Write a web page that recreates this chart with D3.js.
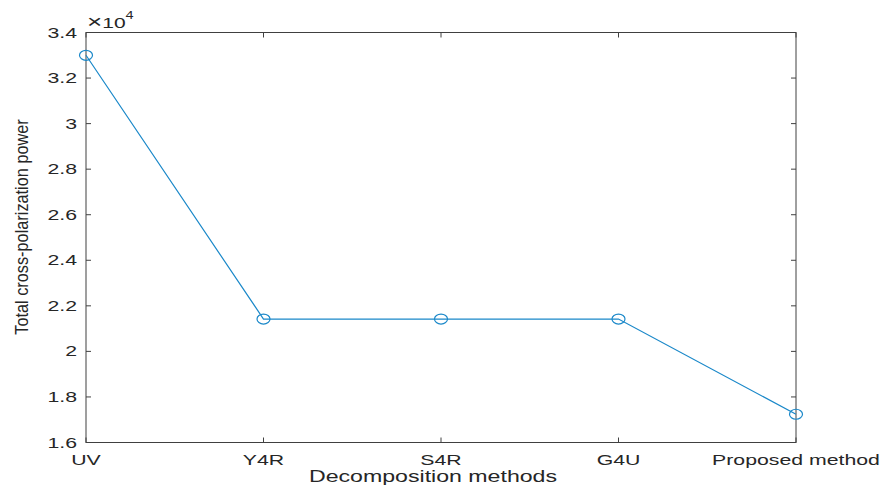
<!DOCTYPE html>
<html>
<head>
<meta charset="utf-8">
<script src="https://cdn.jsdelivr.net/npm/d3@7"></script>
<style>
  html, body { margin: 0; padding: 0; background: #fff; }
  svg { display: block; }
  text { font-family: "Liberation Sans", Arial, Helvetica, sans-serif; fill: #262626; }
</style>
</head>
<body>
<svg id="chart" width="887" height="495"></svg>
<script>
// Decomposition methods and their total cross-polarization power
const methods = ["UV", "Y4R", "S4R", "G4U", "Proposed method"];
const crossPolPower = [33000, 21420, 21420, 21420, 17240];
// y tick labels in units of 10^4
const yTickLabels = [1.6, 1.8, 2.0, 2.2, 2.4, 2.6, 2.8, 3.0, 3.2, 3.4];
const yExponent = 4;

const plot = { left: 86, right: 796, top: 32.5, bottom: 442.5 };
const axisColor = "#404040";
const lineColor = "#1a88c9";

const svg = d3.select("#chart");

const x = d3.scalePoint().domain(methods).range([plot.left, plot.right]).padding(0);
const y = d3.scaleLinear().domain([16000, 34000]).range([plot.bottom, plot.top]);

const fmt = v => String(+v.toFixed(1));

// text with horizontally widened glyphs
function stretchedText(g, tx, ty, sx, rot) {
  return g.append("text")
    .attr("transform", `translate(${tx},${ty}) scale(${sx},1)` + (rot ? ` rotate(${rot})` : ""));
}

// box
svg.append("rect")
  .attr("x", plot.left).attr("y", plot.top)
  .attr("width", plot.right - plot.left).attr("height", plot.bottom - plot.top)
  .attr("fill", "none").attr("stroke", axisColor).attr("stroke-width", 1);

const tickLen = 5;
const ticks = svg.append("g").attr("stroke", axisColor).attr("stroke-width", 1);

// y ticks, inward on both sides
yTickLabels.forEach(t => {
  const yy = y(t * Math.pow(10, yExponent));
  ticks.append("line").attr("x1", plot.left).attr("x2", plot.left + tickLen).attr("y1", yy).attr("y2", yy);
  ticks.append("line").attr("x1", plot.right).attr("x2", plot.right - tickLen).attr("y1", yy).attr("y2", yy);
});
// x ticks, inward on top and bottom
methods.forEach(m => {
  const xx = x(m);
  ticks.append("line").attr("x1", xx).attr("x2", xx).attr("y1", plot.bottom).attr("y2", plot.bottom - tickLen);
  ticks.append("line").attr("x1", xx).attr("x2", xx).attr("y1", plot.top).attr("y2", plot.top + tickLen);
});

const labels = svg.append("g");
const tickFont = 14, tickSx = 1.52;

yTickLabels.forEach(t => {
  stretchedText(labels, plot.left - 9, y(t * Math.pow(10, yExponent)) + 5, tickSx)
    .attr("text-anchor", "end")
    .attr("font-size", tickFont)
    .text(fmt(t));
});

methods.forEach(m => {
  stretchedText(labels, x(m), 465, tickSx)
    .attr("text-anchor", "middle")
    .attr("font-size", tickFont)
    .text(m);
});

// exponent label
const expText = stretchedText(labels, 87, 28, 1.45)
  .attr("font-size", 14.5);
expText.append("tspan").attr("font-size", 18).text("\u00d7");
expText.append("tspan").text("10");
expText.append("tspan").attr("font-size", 10).attr("dy", -9).text(yExponent);

// axis titles
stretchedText(labels, 433, 482, 1.42)
  .attr("text-anchor", "middle")
  .attr("font-size", 16.3)
  .text("Decomposition methods");

stretchedText(labels, 28, 227, 1.12, -90)
  .attr("text-anchor", "middle")
  .attr("font-size", 16.3)
  .text("Total cross-polarization power");

// data line
const line = d3.line().x((d, i) => x(methods[i])).y(d => y(d));
svg.append("path")
  .datum(crossPolPower)
  .attr("d", line)
  .attr("fill", "none")
  .attr("stroke", lineColor)
  .attr("stroke-width", 1.2);

// circle markers
svg.append("g").selectAll("ellipse")
  .data(crossPolPower)
  .join("ellipse")
  .attr("cx", (d, i) => x(methods[i]))
  .attr("cy", d => y(d))
  .attr("rx", 6.5).attr("ry", 5)
  .attr("fill", "none")
  .attr("stroke", lineColor)
  .attr("stroke-width", 1.2);
</script>
</body>
</html>
